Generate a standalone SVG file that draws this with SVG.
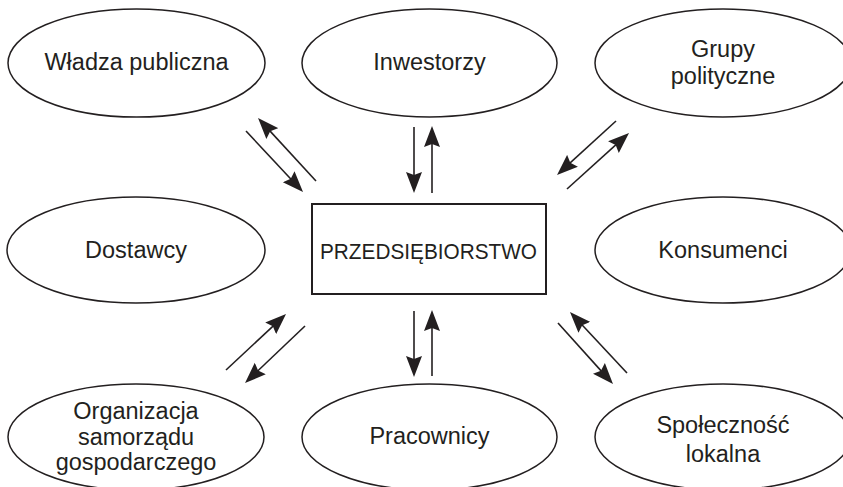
<svg xmlns="http://www.w3.org/2000/svg" width="843" height="487" viewBox="0 0 843 487">
  <style>
    .node ellipse { fill: #ffffff; stroke: #231f20; stroke-width: 1.5; }
    .node rect { fill: #ffffff; stroke: #231f20; stroke-width: 2; }
    text { font-family: "Liberation Sans", Arial, Helvetica, sans-serif; fill: #231f20; text-anchor: middle; }
    .lbl { font-size: 23.5px; }
    .core { font-size: 22px; }
    #connectors line { stroke: #231f20; stroke-width: 1.6; marker-end: url(#head); }
  </style>
  <defs>
    <marker id="head" viewBox="0 0 21 17" refX="11" refY="8.5" markerWidth="21" markerHeight="17" markerUnits="userSpaceOnUse" orient="auto">
      <path d="M0,0.5 L21,8.5 L0,16.5 L3,8.5 Z" fill="#231f20"/>
    </marker>
  </defs>
  <rect width="843" height="487" fill="#ffffff"/>

  <g id="wladza" class="node">
    <ellipse cx="136.5" cy="63" rx="128.5" ry="54"/>
    <text class="lbl" x="136.5" y="70">Władza publiczna</text>
  </g>
  <g id="inwestorzy" class="node">
    <ellipse cx="429.5" cy="63" rx="127.5" ry="54"/>
    <text class="lbl" x="429.5" y="70">Inwestorzy</text>
  </g>
  <g id="grupy" class="node">
    <ellipse cx="723" cy="63" rx="128" ry="54"/>
    <text class="lbl" x="723" y="57">Grupy</text>
    <text class="lbl" x="723" y="84">polityczne</text>
  </g>
  <g id="dostawcy" class="node">
    <ellipse cx="136" cy="250" rx="129" ry="53"/>
    <text class="lbl" x="136" y="258">Dostawcy</text>
  </g>
  <g id="przedsiebiorstwo" class="node">
    <rect x="312" y="204" width="234" height="90"/>
    <text class="core" x="428.5" y="259" textLength="217" lengthAdjust="spacingAndGlyphs">PRZEDSIĘBIORSTWO</text>
  </g>
  <g id="konsumenci" class="node">
    <ellipse cx="723" cy="250" rx="128" ry="53"/>
    <text class="lbl" x="723" y="258">Konsumenci</text>
  </g>
  <g id="organizacja" class="node">
    <ellipse cx="136" cy="437" rx="128" ry="53"/>
    <text class="lbl" x="136" y="419">Organizacja</text>
    <text class="lbl" x="136" y="445">samorządu</text>
    <text class="lbl" x="136" y="470">gospodarczego</text>
  </g>
  <g id="pracownicy" class="node">
    <ellipse cx="429.5" cy="437" rx="127.5" ry="53"/>
    <text class="lbl" x="429.5" y="444">Pracownicy</text>
  </g>
  <g id="spolecznosc" class="node">
    <ellipse cx="723" cy="437" rx="128" ry="53"/>
    <text class="lbl" x="723" y="433">Społeczność</text>
    <text class="lbl" x="723" y="462">lokalna</text>
  </g>

  <g id="connectors">
    <!-- Władza publiczna -->
    <line x1="246" y1="131" x2="296.2" y2="184.7"/>
    <line x1="316" y1="181" x2="264.8" y2="125.4"/>
    <!-- Inwestorzy -->
    <line x1="414" y1="127" x2="414" y2="183"/>
    <line x1="432" y1="193" x2="432" y2="136"/>
    <!-- Grupy polityczne -->
    <line x1="616" y1="121" x2="564.4" y2="168.2"/>
    <line x1="567" y1="189" x2="621.6" y2="139.7"/>
    <!-- Organizacja samorządu gospodarczego -->
    <line x1="226" y1="370" x2="278.7" y2="320.8"/>
    <line x1="305" y1="326" x2="252.3" y2="376.1"/>
    <!-- Pracownicy -->
    <line x1="414" y1="311" x2="414" y2="367"/>
    <line x1="432" y1="376" x2="432" y2="320"/>
    <!-- Społeczność lokalna -->
    <line x1="558" y1="323" x2="606.3" y2="376.6"/>
    <line x1="627" y1="373" x2="576.8" y2="319.3"/>
  </g>
</svg>
